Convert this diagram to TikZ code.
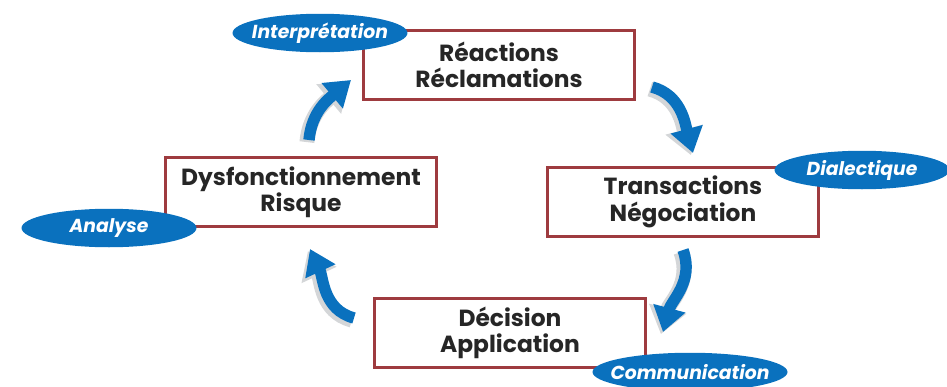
\documentclass[tikz,border=0pt]{standalone}
\usepackage{fontspec}
\setmainfont{Poppins}
\usetikzlibrary{arrows.meta,shapes.geometric}
\definecolor{boxred}{HTML}{9E3B3F}
\definecolor{ovalblue}{HTML}{0A71BE}
\definecolor{shade}{HTML}{D4D6D8}
\tikzset{
  stage/.style={draw=boxred, line width=1.2pt, minimum width=5.42cm, minimum height=1.38cm,
    align=center, font=\fontsize{13.3}{15}\selectfont\bfseries, text=black!85},
  oval/.style={ellipse, fill=ovalblue, minimum width=3.5cm, minimum height=0.77cm,
    inner xsep=-6pt, inner ysep=0pt,
    text=white, font=\fontsize{10.7}{12}\selectfont\itshape\bfseries},
  turn/.style={draw=ovalblue, line width=6.5pt, -{Triangle[width=18pt,length=14pt]},
    preaction={draw=shade, line width=8.5pt, -{Triangle[width=21pt,length=15pt]},
      transform canvas={shift={(-1.2pt,-1.2pt)}}}}
}
\begin{document}
\begin{tikzpicture}[x=0.02cm, y=-0.02cm]
        \useasboundingbox (0, 0) rectangle (947, 386);
        \node[stage] at(499, 65) (reac) {Réactions\\Réclamations};
        \node[stage] at(683, 202) (trans) {Transactions\\Négociation};
        \node[stage] at(510, 333) (dec) {Décision\\Application};
        \node[stage] at(301, 192) (dys) {Dysfonctionnement\\Risque};
        \node[oval] at(320, 33) (interp) {Interprétation};
        \node[oval] at(862, 170) (dial) {Dialectique};
        \node[oval] at(690, 372) (comm) {Communication};
        \node[oval] at(109, 228) (ana) {Analyse};
        \coordinate (t1) at (309, 140);
        \coordinate (h1) at (351, 80);
        \coordinate (t2) at (652, 87);
        \coordinate (h2) at (693, 153);
        \coordinate (t3) at (683, 250);
        \coordinate (h3) at (663, 332);
        \coordinate (t4) at (354, 318);
        \coordinate (h4) at (310, 249);
        \draw[turn] (t1) to[out=85, in=-140] (h1);
        \draw[turn] (t2) to[out=-15, in=105] (h2);
        \draw[turn] (t3) to[out=-70, in=75] (h3);
        \draw[turn] (t4) to[out=165, in=-65] (h4);
    \end{tikzpicture}
\end{document}
